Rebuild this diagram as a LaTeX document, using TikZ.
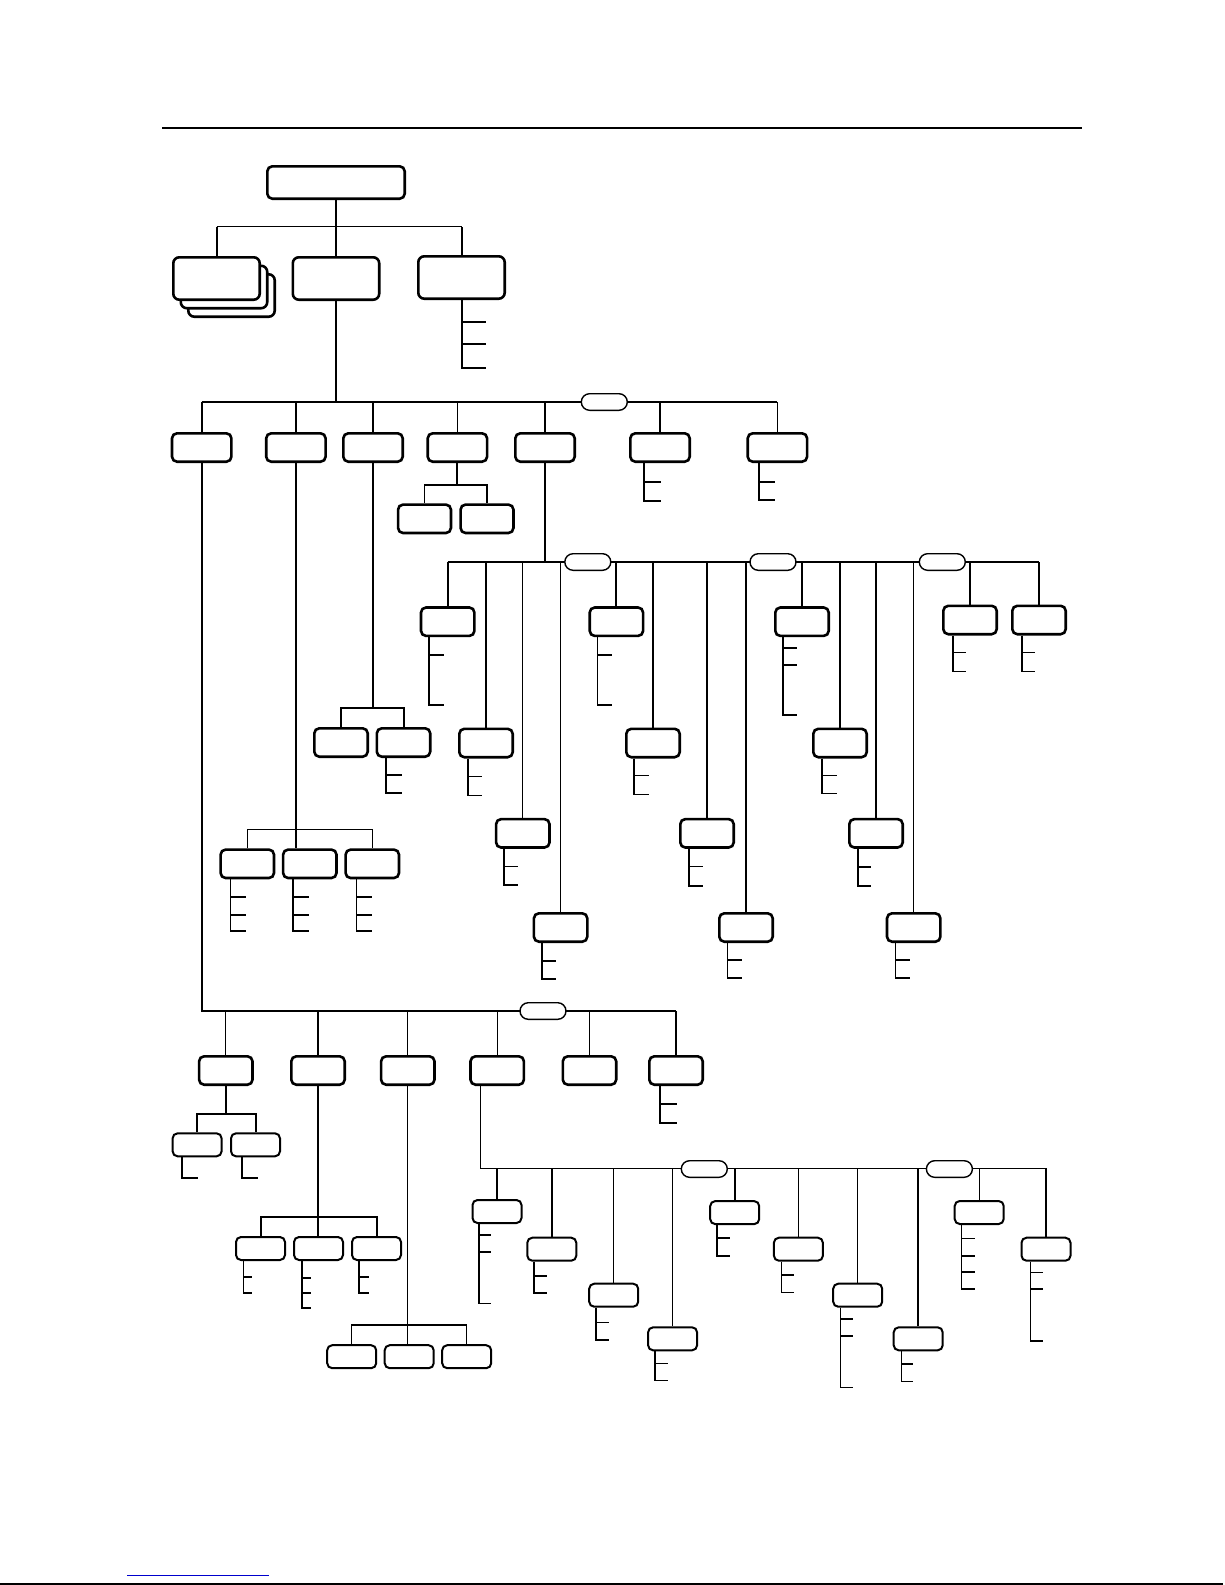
\documentclass[tikz,border=0pt]{standalone}
\usetikzlibrary{positioning,calc}
\definecolor{linkblue}{RGB}{0,0,205}
\begin{document}
\begin{tikzpicture}[
    x=1pt, y=-1pt,
    box/.style={rectangle, draw, rounded corners=5pt, line width=2.6pt, fill=white,
                minimum width=53.4pt, minimum height=28.4pt, inner sep=0pt},
    wide/.style={box, minimum width=59.4pt},
    big/.style={box, minimum width=86.4pt, minimum height=42.4pt, rounded corners=6pt},
    small/.style={box, line width=2pt, minimum width=49pt, minimum height=23pt},
    pill/.style={rectangle, draw, rounded corners=8.3pt, line width=1.4pt, fill=white,
                 minimum width=46pt, minimum height=16.6pt, inner sep=0pt},
    wire/.style={line width=1.3pt},
    bus/.style={line width=2pt},
    tick/.style={line width=1.6pt}
]
  \useasboundingbox (0,0) rectangle (1225,1585);

  % Page rules
  \draw[bus] (162,127.7) -- (1082,127.7);
  \draw[bus] (0,1584) -- (1223,1584);
  \draw[linkblue, line width=1pt] (127.3,1575.3) -- (269,1575.3);

  % Bus levels
  \coordinate (hub1) at (0,226.7);
  \coordinate (bus2) at (0,401.7);
  \coordinate (bus3) at (0,561.7);
  \coordinate (busB) at (0,1011);
  \coordinate (busC) at (0,1168.3);

  % Top of the tree
  \node[box, minimum width=137.4pt, minimum height=32.4pt] (root) at (336,182.5) {};
  \node[big] (grpA3) at (231.5,295.5) {};
  \node[big] (grpA2) at (224,287) {};
  \node[big] (grpA) at (216.5,278.5) {};
  \node[big] (grpB) at (336,278.5) {};
  \node[big] (grpC) at (461.5,277.5) {};
  \draw[bus] (root.south) -- (root.south |- hub1);
  \draw[wire] (grpA.north |- hub1) -- (grpC.north |- hub1);
  \draw[bus] (grpA.north) -- (grpA.north |- hub1);
  \draw[bus] (grpB.north) -- (grpB.north |- hub1);
  \draw[bus] (grpC.north) -- (grpC.north |- hub1);
  \draw[bus] (grpB.south) -- (grpB.south |- bus2);

  % Second level
  \foreach \n/\x/\w in {b1/201.7/bus, b2/295.9/bus, b3/373/bus, b4/457.4/wire,
                        b5/545/bus, b6/660/bus, b7/777.4/wire}{
    \node[wide] (\n) at (\x,447.5) {};
    \draw[\w] (\n.north) -- (\n.north |- bus2);
  }
  \draw[bus] (b1.north |- bus2) -- (b7.north |- bus2);
  \node[pill] (p2) at (604.3,402) {};

  \coordinate (j4) at (0,485);
  \node[box, minimum width=52.9pt] (b4l) at (424.5,518.8) {};
  \node[box, minimum width=52.9pt, right=7pt of b4l] (b4r) {};
  \draw[bus] (b4.south) -- (b4.south |- j4);
  \draw[wire] (b4l.north) |- (b4r.north |- j4) -- (b4r.north);

  \coordinate (j3) at (0,708.3);
  \node[box] (b3l) at (341,742.5) {};
  \node[box, right=6.5pt of b3l] (b3r) {};
  \draw[wire] (b3.south) -- (b3.south |- j3);
  \draw[bus] (b3l.north) |- (b3r.north |- j3) -- (b3r.north);

  \coordinate (j2) at (0,829.3);
  \node[box] (b2l) at (247.3,863.8) {};
  \node[box, right=6.5pt of b2l] (b2m) {};
  \node[box, right=6.5pt of b2m] (b2r) {};
  \draw[bus] (b2.south) -- (b2.south |- b2m.north);
  \draw[wire] (b2l.north) |- (b2r.north |- j2) -- (b2r.north);

  % Third level under b5
  \draw[bus] (b5.south) -- (b5.south |- bus3);
  \foreach \n/\x/\y/\w in {c1/447.7/621.7/bus, c2/486/743/wire, c3/522.8/833.3/wire,
      c4/560.6/927.5/wire, c5/616.4/621.7/bus, c6/653/743/wire, c7/707/833.3/bus,
      c8/746/927.5/wire, c9/802/621.7/bus, c10/840/743/bus, c11/876/833.3/bus,
      c12/913.7/927.5/wire, c13/970/620/wire, c14/1039/620/wire}{
    \node[box] (\n) at (\x,\y) {};
    \draw[\w] (\n.north) -- (\n.north |- bus3);
  }
  \draw[bus] (c1.north |- bus3) -- (c14.north |- bus3);
  \node[pill] (p3a) at (587.8,562) {};
  \node[pill] (p3b) at (773,562) {};
  \node[pill] (p3c) at (942.3,562) {};

  % Lower branch under b1
  \foreach \n/\x in {d1/225.8, d2/318, d3/407.8, d4/497.2, d5/589.5, d6/676}{
    \node[box] (\n) at (\x,1070.5) {};
    \draw[wire] (\n.north) -- (\n.north |- busB);
  }
  \draw[bus] (b1.south) |- (d6.north |- busB);
  \node[pill] (pB) at (543,1011) {};

  \coordinate (k1) at (0,1114);
  \node[small] (d1l) at (197.1,1144.8) {};
  \node[small, right=7.4pt of d1l] (d1r) {};
  \draw[bus] (d1.south) -- (d1.south |- k1);
  \draw[bus] (d1l.north) |- (d1r.north |- k1) -- (d1r.north);

  \coordinate (k2) at (0,1216.7);
  \node[small] (d2l) at (260.5,1248.5) {};
  \node[small, right=7pt of d2l] (d2m) {};
  \node[small, right=7pt of d2m] (d2r) {};
  \draw[bus] (d2.south) -- (d2.south |- d2m.north);
  \draw[bus] (d2l.north) |- (d2r.north |- k2) -- (d2r.north);

  \coordinate (k3) at (0,1325);
  \node[small] (d3l) at (351.7,1356.7) {};
  \node[small, right=6.5pt of d3l] (d3m) {};
  \node[small, right=6.5pt of d3m] (d3r) {};
  \draw[wire] (d3.south) -- (d3.south |- d3m.north);
  \draw[wire] (d3l.north) |- (d3r.north |- k3) -- (d3r.north);

  % Level under d4
  \foreach \n/\x/\y/\w in {e1/497/1211.5/bus, e2/551.8/1249.2/bus, e3/613.7/1295.2/wire,
      e4/672.6/1338.8/wire, e5/734.7/1212.6/bus, e6/798.4/1249.2/wire,
      e7/857.7/1295.2/wire, e8/918.2/1338.8/bus, e9/979.2/1212.5/wire,
      e10/1046/1249.2/bus}{
    \node[small] (\n) at (\x,\y) {};
    \draw[\w] (\n.north) -- (\n.north |- busC);
  }
  \draw[wire] ($(d4.south west)+(11.2,0)$) |- (e10.north |- busC);
  \node[pill] (pCa) at (704.3,1169) {};
  \node[pill] (pCb) at (949.4,1169) {};

  % Leaf ticks under boxes
  \foreach \n/\dx/\len/\offs in {grpC/44.7/24/{22,44,68}, b6/15/17/{19,38},
      b7/12.6/15.7/{18.7,37}, b3r/10.7/16/{16.7,34.7},
      b2l/11/16/{17.4,35.7,51.7}, b2m/11/16/{17.4,35.7,51.7}, b2r/12/15.6/{17.4,35.7,51.7},
      c1/9/15/{18,68}, c2/10/14/{18,37}, c3/9.3/14/{17.5,36}, c4/9.3/14/{18,36},
      c5/9/14.7/{18,68}, c6/9/14.7/{17,36}, c7/10/14.3/{17.5,37}, c8/9.3/14.3/{17,35},
      c9/9/14.3/{11,28,78}, c10/10/14.7/{17,35}, c11/9.7/13.3/{18,37},
      c12/9.8/14.4/{17,35}, c13/11/13.2/{17,36}, c14/10.7/13.4/{17,36},
      d1l/10.6/15.7/{20.4}, d1r/12.2/15.5/{20.4},
      d2l/8.5/8.7/{16,32}, d2m/8.8/8.7/{17,32,47}, d2r/8/9.5/{16,32},
      d6/12.2/16.5/{18,37},
      e1/7.2/12.6/{11,27.7,79.3}, e2/7.9/12.7/{14,31}, e3/7.9/12.7/{14.6,32.3},
      e4/7.9/12.7/{12.3,29.3}, e5/7.9/13/{13,30.7}, e6/8.4/12.6/{13.3,30.6},
      e7/8.3/12.6/{11.3,28,79.6}, e8/8.7/11.8/{12.6,30},
      e9/7.9/13/{13.3,30.7,46.7,64}, e10/10/12.3/{10.6,27.3,79}}{
    \foreach \o in \offs
      \draw[tick] ($(\n.south west)+(\dx,0)$) |- ++(\len,\o);
  }
\end{tikzpicture}
\end{document}
